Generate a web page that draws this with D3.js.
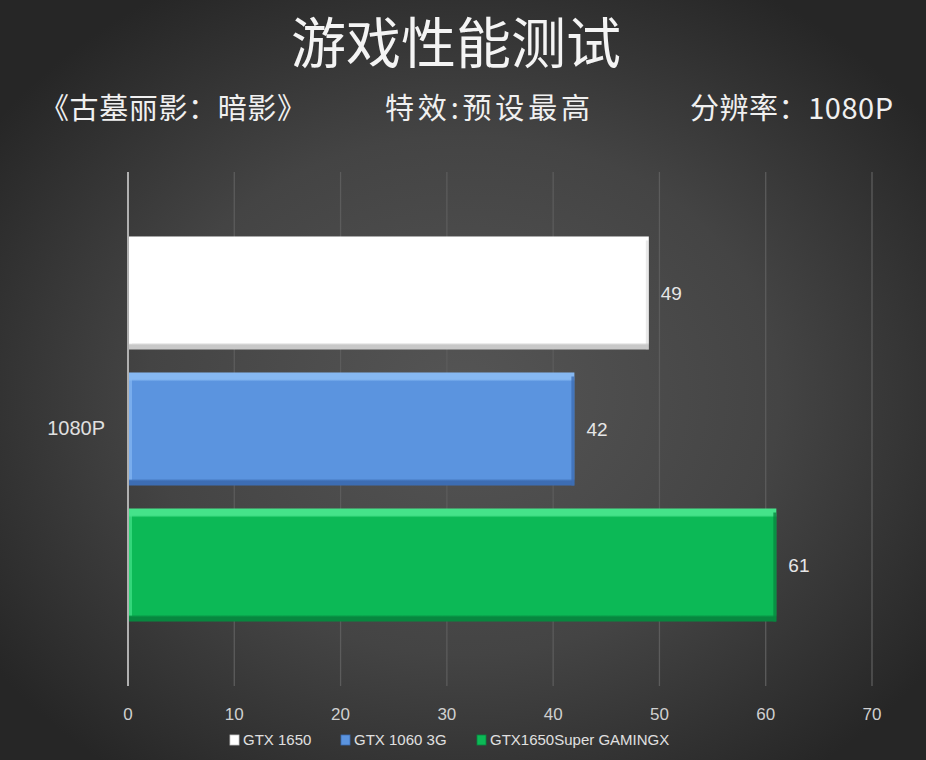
<!DOCTYPE html>
<html><head><meta charset="utf-8">
<script src="https://cdn.jsdelivr.net/npm/d3@7"></script>
<style>html,body{margin:0;padding:0;background:#2a2a2a;}svg{display:block;}</style>
</head><body>
<svg id="c" width="926" height="760"></svg>
<script>
const title = "游戏性能测试";
const subtitles = ["《古墓丽影：暗影》", "特效:预设最高", "分辨率：1080P"];
const category = ["1080P"];
const seriesNames = ["GTX 1650", "GTX 1060 3G", "GTX1650Super GAMINGX"];
const seriesValues = [49, 42, 61];
const xTicks = [0, 10, 20, 30, 40, 50, 60, 70];
const colors = [
  {hi:"#ffffff", main:"#ffffff", lo:"#c8c8c8"},
  {hi:"#86b8f2", main:"#5b94df", lo:"#3d6db3"},
  {hi:"#45e38a", main:"#0cb956", lo:"#07873f"}
];

const W = 926, H = 760;
const svg = d3.select("#c");
const defs = svg.append("defs");
const bg = defs.append("radialGradient").attr("id","bg").attr("cx","50%").attr("cy","52%").attr("r","62%");
bg.append("stop").attr("offset","0%").attr("stop-color","#555555");
bg.append("stop").attr("offset","55%").attr("stop-color","#444444");
bg.append("stop").attr("offset","100%").attr("stop-color","#262626");
svg.append("rect").attr("width",W).attr("height",H).attr("fill","url(#bg)");

colors.forEach((c,i)=>{
  const g = defs.append("linearGradient").attr("id","bar"+i).attr("x1",0).attr("y1",0).attr("x2",0).attr("y2",1);
  g.append("stop").attr("offset","0%").attr("stop-color",c.hi);
  g.append("stop").attr("offset","6%").attr("stop-color",c.hi);
  g.append("stop").attr("offset","8%").attr("stop-color",c.main);
  g.append("stop").attr("offset","94%").attr("stop-color",c.main);
  g.append("stop").attr("offset","96%").attr("stop-color",c.lo);
  g.append("stop").attr("offset","100%").attr("stop-color",c.lo);
});

const x = d3.scaleLinear().domain([0,70]).range([128,872]);
const y = d3.scaleBand().domain(seriesNames).range([172,686]).paddingInner(0.169).paddingOuter(0.474);

// gridlines
svg.append("g").selectAll("line").data(xTicks.filter(d=>d>0)).join("line")
  .attr("x1",d=>x(d)).attr("x2",d=>x(d)).attr("y1",172).attr("y2",686)
  .attr("stroke","#5c5c5c").attr("stroke-width",1.3);

// bars
const bars = svg.append("g").selectAll("g").data(seriesNames).join("g");
bars.append("rect")
  .attr("x",x(0)+1).attr("y",d=>y(d))
  .attr("width",(d,i)=>x(seriesValues[i])-x(0)-1)
  .attr("height",y.bandwidth())
  .attr("fill",(d,i)=>`url(#bar${i})`);
// right edge shading
bars.append("rect")
  .attr("x",(d,i)=>x(seriesValues[i])-3).attr("y",d=>y(d)+4)
  .attr("width",3).attr("height",y.bandwidth()-4)
  .attr("fill",(d,i)=>colors[i].lo).attr("opacity",(d,i)=>i===0?0.4:0.8);
// left edge highlight
bars.append("rect")
  .attr("x",x(0)+1).attr("y",d=>y(d)+2)
  .attr("width",3).attr("height",y.bandwidth()-8)
  .attr("fill",(d,i)=>colors[i].hi).attr("opacity",0.7);

// value labels
bars.append("text")
  .attr("x",(d,i)=>x(seriesValues[i])+12)
  .attr("y",d=>y(d)+y.bandwidth()/2+7)
  .attr("fill","#e6e6e6").attr("font-family","Liberation Sans, Arial, sans-serif").attr("font-size",19)
  .text((d,i)=>seriesValues[i]);

// axis line at 0
svg.append("line").attr("x1",x(0)).attr("x2",x(0)).attr("y1",172).attr("y2",686)
  .attr("stroke","#b0b0b0").attr("stroke-width",2);

// x tick labels
svg.append("g").selectAll("text").data(xTicks).join("text")
  .attr("x",d=>x(d)).attr("y",720).attr("text-anchor","middle")
  .attr("fill","#d0d0d0").attr("font-family","Liberation Sans, Arial, sans-serif").attr("font-size",17)
  .text(d=>d);

// category label
svg.append("text").attr("x",105).attr("y",435).attr("text-anchor","end")
  .attr("fill","#e0e0e0").attr("font-family","Liberation Sans, Arial, sans-serif").attr("font-size",20)
  .text(category[0]);

// title
svg.append("text").attr("x",456).attr("y",63).attr("text-anchor","middle")
  .attr("fill","#f4f4f4").attr("font-family","Noto Sans CJK SC").attr("font-weight",400).attr("font-size",55)
  .text(title);
const subX = [40, 385, 690];
const subW = [266, 205, 203];
svg.append("g").selectAll("text").data(subtitles).join("text")
  .attr("x",(d,i)=>subX[i]).attr("y",119)
  .attr("textLength",(d,i)=>subW[i]).attr("lengthAdjust","spacing")
  .attr("fill","#f0f0f0").attr("font-family","Noto Sans CJK SC").attr("font-size",29)
  .text(d=>d);

// legend
const legX = [230, 341, 477];
const leg = svg.append("g").selectAll("g").data(seriesNames).join("g")
  .attr("transform",(d,i)=>`translate(${legX[i]},735)`);
leg.append("rect").attr("width",9).attr("height",10)
  .attr("fill",(d,i)=>colors[i].main).attr("stroke",(d,i)=>colors[i].lo).attr("stroke-width",0.8);
leg.append("text").attr("x",13).attr("y",10)
  .attr("fill","#e0e0e0").attr("font-family","Liberation Sans, Arial, sans-serif").attr("font-size",15)
  .text(d=>d);
</script>
</body></html>
